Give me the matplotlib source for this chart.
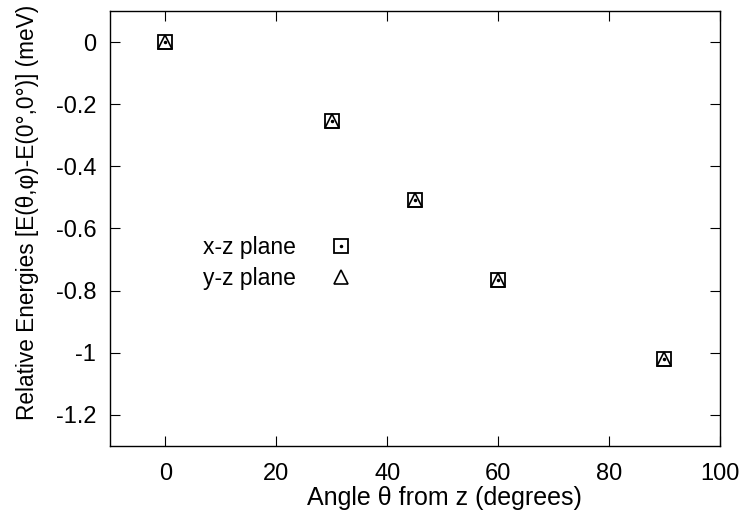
import matplotlib
matplotlib.use('Agg')
from matplotlib import pyplot as plt
from matplotlib.lines import Line2D
from matplotlib.legend_handler import HandlerTuple

plt.rcParams['font.family'] = ['Liberation Sans', 'DejaVu Sans']

angles = [0, 30, 45, 60, 90]
xz_energy = [0.0, -0.255, -0.51, -0.765, -1.02]
yz_energy = [0.0, -0.255, -0.51, -0.765, -1.02]

fig = plt.figure(figsize=(7.46, 5.21), dpi=100)
ax = fig.add_axes([0.1475, 0.144, 0.8175, 0.835])

sq_style = dict(ls='none', marker='s', ms=10.5, mfc='none', mec='black', mew=1.3)
dot_style = dict(ls='none', marker='.', ms=3, color='black')
tri_style = dict(ls='none', marker='^', ms=10, mfc='none', mec='black', mew=1.2)

# x-z plane: open square with a dot in the middle
ax.plot(angles, xz_energy, **sq_style)
ax.plot(angles, xz_energy, **dot_style)
# y-z plane: open triangle
ax.plot(angles, yz_energy, **tri_style)

h_sq = (Line2D([], [], **sq_style), Line2D([], [], **dot_style))
h_tri = Line2D([], [], **tri_style)
ax.legend([h_sq, h_tri], ['x-z plane', 'y-z plane'], handler_map={tuple: HandlerTuple(ndivide=1)},
          markerfirst=False, frameon=False, fontsize=16.5, loc='center left',
          bbox_to_anchor=(0.152, 0.42), borderpad=0, borderaxespad=0,
          handlelength=2.4, handletextpad=0.8, labelspacing=0.36)

ax.set_xlim(-10, 100)
ax.set_ylim(-1.3, 0.1)
ax.set_xticks([0, 20, 40, 60, 80, 100])
ax.set_yticks([0, -0.2, -0.4, -0.6, -0.8, -1, -1.2])
ax.set_yticklabels(['0', '-0.2', '-0.4', '-0.6', '-0.8', '-1', '-1.2'])
ax.tick_params(direction='in', length=7, width=0.8, labelsize=17, top=True, right=True)
ax.tick_params(axis='y', pad=10)
ax.tick_params(axis='x', pad=12)
for s in ax.spines.values():
    s.set_linewidth(1.0)

ax.set_xlabel('Angle θ from z (degrees)', fontsize=18)
ax.xaxis.set_label_coords(0.549, -0.093)
ax.set_ylabel('Relative Energies [E(θ,φ)-E(0°,0°)] (meV)', fontsize=16.3)
ax.yaxis.set_label_coords(-0.117, 0.538)

plt.savefig('out.png', dpi=100)
